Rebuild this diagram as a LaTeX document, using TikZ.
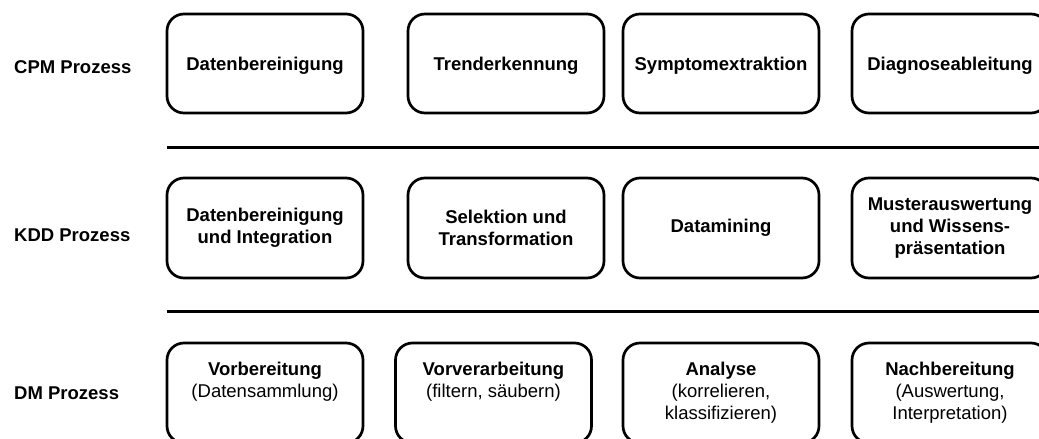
\documentclass[tikz,border=0pt]{standalone}
\usepackage{fontspec}
\setmainfont{Liberation Sans}
\begin{document}
\begin{tikzpicture}[x=1pt,y=-1pt,
  stagefont/.style={font=\fontsize{18.5}{22}\selectfont},
  stage/.style={stagefont, draw=black, line width=2.7pt, rounded corners=17pt,
    minimum width=196pt, inner sep=4pt, align=center},
  cpmstage/.style={stage, minimum height=99pt, text depth=0pt, font=\fontsize{18.5}{22}\selectfont\bfseries},
  kddstage/.style={stage, minimum height=100pt, font=\fontsize{18.5}{22}\selectfont\bfseries},
  dmstage/.style={stage, minimum height=100pt},
  rowlabel/.style={stagefont, font=\fontsize{18.5}{22}\selectfont\bfseries, anchor=base west, inner sep=0pt},
  separator/.style={draw=black, line width=3pt}]

\useasboundingbox (0,0) rectangle (1039,439);

% row labels
\node[rowlabel] (cpm) at (14,73.3) {CPM Prozess};
\node[rowlabel] (kdd) at (14,241.7) {KDD Prozess};
\node[rowlabel] (dm)  at (14,399.3) {DM Prozess};

% CPM process
\node[cpmstage] (c1) at (265,63.5) {Datenbereinigung};
\node[cpmstage] (c2) at (506,63.5) {Trenderkennung};
\node[cpmstage] (c3) at (721,63.5) {Symptomextraktion};
\node[cpmstage] (c4) at (950,63.5) {Diagnoseableitung};

% separator between CPM and KDD
\coordinate (s1w) at (167,147);
\coordinate (s1e) at (1045,147);
\draw[separator] (s1w) -- (s1e);

% KDD process
\node[kddstage] (k1) at (265,228) {Datenbereinigung\\und Integration};
\node[kddstage] (k2) at (506,228) {Selektion und\\Transformation};
\node[kddstage] (k3) at (721,228) {Datamining};
\node[kddstage] (k4) at (950,228) {Musterauswertung\\und Wissens-\\präsentation};

% separator between KDD and DM
\coordinate (s2w) at (167,311);
\coordinate (s2e) at (1045,311);
\draw[separator] (s2w) -- (s2e);

% DM process
\node[dmstage] (d1) at (265,393) {\textbf{Vorbereitung}\\(Datensammlung)\\\vphantom{)}};
\node[dmstage] (d2) at (493.5,393) {\textbf{Vorverarbeitung}\\(filtern, säubern)\\\vphantom{)}};
\node[dmstage] (d3) at (721,393) {\textbf{Analyse}\\(korrelieren,\\klassifizieren)};
\node[dmstage] (d4) at (950,393) {\textbf{Nachbereitung}\\(Auswertung,\\Interpretation)};

\end{tikzpicture}
\end{document}
